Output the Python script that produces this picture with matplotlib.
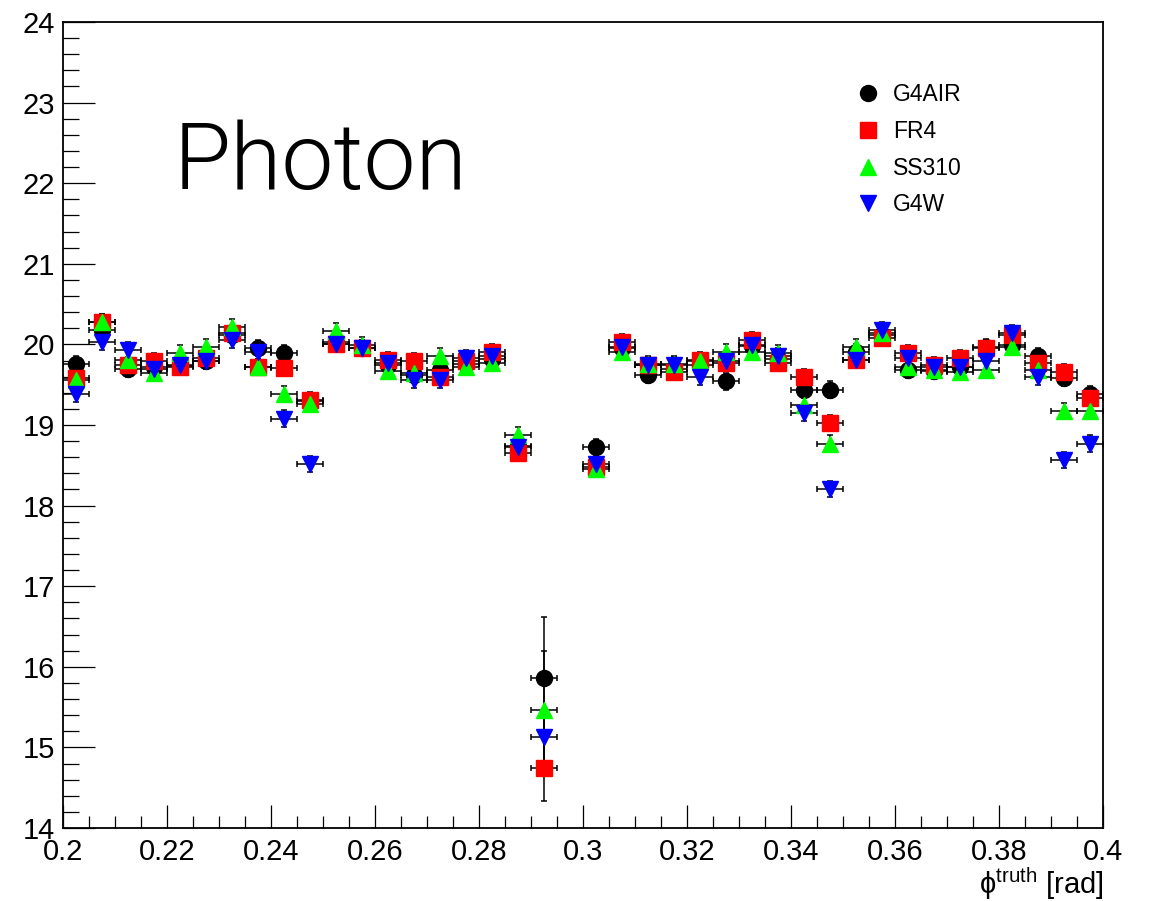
import numpy as np
import matplotlib
matplotlib.use("Agg")
import matplotlib.pyplot as plt
from matplotlib.ticker import MultipleLocator, FuncFormatter

plt.rcParams["font.family"] = ["Liberation Sans", "DejaVu Sans"]
plt.rcParams["mathtext.fontset"] = "custom"
plt.rcParams["mathtext.rm"] = "Liberation Sans"

# -------------------------
# DATA (bin width 0.005 rad)
# -------------------------
phi_centers = [0.2025, 0.2075, 0.2125, 0.2175, 0.2225, 0.2275, 0.2325, 0.2375,
               0.2425, 0.2475, 0.2525, 0.2575, 0.2625, 0.2675, 0.2725, 0.2775,
               0.2825, 0.2875, 0.2925, 0.2975, 0.3025, 0.3075, 0.3125, 0.3175,
               0.3225, 0.3275, 0.3325, 0.3375, 0.3425, 0.3475, 0.3525, 0.3575,
               0.3625, 0.3675, 0.3725, 0.3775, 0.3825, 0.3875, 0.3925, 0.3975]
half_bin = 0.0025

g4air = [19.76, 20.18, 19.70, 19.72, 19.73, 19.80, 20.12, 19.95,
         19.89, 19.30, 20.03, 19.95, 19.74, 19.62, 19.68, 19.76,
         19.82, 18.74, 15.86, np.nan, 18.73, 19.95, 19.62, 19.70,
         19.75, 19.54, 19.98, 19.82, 19.43, 19.44, 19.90, 20.12,
         19.68, 19.67, 19.72, 19.97, 19.99, 19.85, 19.58, 19.39]
fr4 = [19.58, 20.28, 19.74, 19.79, 19.72, 19.83, 20.14, 19.72,
       19.71, 19.31, 20.01, 19.96, 19.81, 19.79, 19.60, 19.80,
       19.91, 18.65, 14.74, np.nan, 18.48, 20.03, 19.74, 19.66,
       19.81, 19.77, 20.05, 19.77, 19.59, 19.03, 19.81, 20.08,
       19.89, 19.74, 19.83, 19.95, 20.12, 19.77, 19.66, 19.33]
ss310 = [19.56, 20.28, 19.81, 19.64, 19.89, 19.97, 20.21, 19.72,
         19.39, 19.26, 20.17, 19.99, 19.67, 19.64, 19.85, 19.72,
         19.77, 18.88, 15.47, np.nan, 18.46, 19.91, 19.76, 19.76,
         19.79, 19.91, 19.91, 19.89, 19.25, 18.77, 19.97, 20.14,
         19.72, 19.68, 19.66, 19.68, 19.97, 19.68, 19.17, 19.17]
g4w = [19.39, 20.03, 19.93, 19.70, 19.74, 19.79, 20.06, 19.91,
       19.08, 18.52, 20.01, 19.96, 19.77, 19.56, 19.56, 19.83,
       19.85, 18.73, 15.13, np.nan, 18.52, 19.97, 19.74, 19.74,
       19.60, 19.79, 19.99, 19.85, 19.15, 18.21, 19.81, 20.18,
       19.83, 19.72, 19.72, 19.79, 20.14, 19.60, 18.57, 18.77]

# vertical errors: small everywhere except the 0.2925 bin
err_default = 0.10
err_dip = {"G4AIR": 0.76, "FR4": 0.40, "SS310": 0.72, "G4W": 0.30}
dip_bin = 18

series = [
    ("G4AIR", g4air, "o", "#000000", 11.5),
    ("FR4", fr4, "s", "#ff0000", 12.0),
    ("SS310", ss310, "^", "#00ff00", 12.0),
    ("G4W", g4w, "v", "#0000ff", 12.0),
]

# -------------------------
# PLOTTING
# -------------------------
fig = plt.figure(figsize=(11.54, 9.01), dpi=100)
ax = fig.add_axes([0.0546, 0.0810, 0.9012, 0.8946])

handles = []
labels = []
for name, vals, marker, color, ms in series:
    yerr = np.full(len(vals), err_default)
    yerr[dip_bin] = err_dip[name]
    cont = ax.errorbar(phi_centers, vals, xerr=half_bin, yerr=yerr,
                       fmt=marker, color=color, ecolor="black", mec=color,
                       ms=ms, elinewidth=1.1, capsize=2.5, capthick=1.1,
                       zorder=3)
    handles.append(cont[0])
    labels.append(name)

ax.set_xlim(0.2, 0.4)
ax.set_ylim(14, 24)

ax.xaxis.set_major_locator(MultipleLocator(0.02))
ax.xaxis.set_minor_locator(MultipleLocator(0.005))
ax.yaxis.set_major_locator(MultipleLocator(1))
ax.yaxis.set_minor_locator(MultipleLocator(0.2))
ax.xaxis.set_major_formatter(FuncFormatter(lambda v, _: f"{round(v, 3):g}"))
ax.yaxis.set_major_formatter(FuncFormatter(lambda v, _: f"{v:g}"))

ax.tick_params(axis="both", which="both", direction="in", width=0.9,
               labelsize=21, top=False, right=False)
ax.tick_params(axis="y", which="major", length=23, pad=6)
ax.tick_params(axis="y", which="minor", length=11.5)
ax.tick_params(axis="x", which="major", length=16.5, pad=7)
ax.tick_params(axis="x", which="minor", length=8.6)
for sp in ax.spines.values():
    sp.set_linewidth(1.3)

ax.set_xlabel("$\\mathregular{ϕ^{truth}}$ [rad]", fontsize=21, loc="right",
              labelpad=0)

ax.text(0.106, 0.793, "Photon", transform=ax.transAxes, fontsize=67,
        family="Roboto", fontweight=300, va="baseline", ha="left")

ax.legend(handles=handles, labels=labels, loc="upper left",
          bbox_to_anchor=(0.763, 0.924), frameon=False, fontsize=16.5,
          borderpad=0, handlelength=1.0, handletextpad=0.6,
          labelspacing=0.6, borderaxespad=0)

fig.savefig("out.png", dpi=100)
